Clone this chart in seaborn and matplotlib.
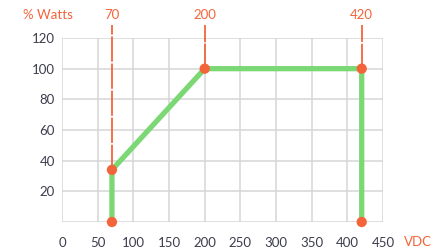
import pandas as pd
import matplotlib.pyplot as plt
import seaborn as sns

# 곡선 데이터 (VDC, % Watts)
vdc = [70, 70, 200, 420, 420]
watts = [0, 34, 100, 100, 0]
# 위쪽 표시선
mark_x = [70, 200, 420]
mark_y = [34, 100, 100]
mark_labels = ['70', '200', '420']
x_ticks = [0, 50, 100, 150, 200, 250, 300, 350, 400, 450]
y_ticks = [0, 20, 40, 60, 80, 100, 120]
y_ticklabels = ['', '20', '40', '60', '80', '100', '120']

orange = '#f4643a'
green = '#7cd874'
grid = '#d6d6d6'
text_col = '#3d3d4d'

sns.set_style('white')
plt.rcParams['font.family'] = ['Lato', 'DejaVu Sans']

df = pd.DataFrame({'VDC': vdc, 'Watts': watts})

fig = plt.figure(figsize=(4.46, 2.5), dpi=100)
ax = fig.add_axes([0.139, 0.112, 0.72, 0.736])

# 표시선 그리기
ax.vlines(mark_x, mark_y, 128.5, colors=orange, linewidth=1.3,
          linestyles=(0, (14, 1)), clip_on=False, zorder=2)
for x, lab in zip(mark_x, mark_labels):
    ax.text(x, 131, lab, color=orange, fontsize=9.5, ha='center', va='bottom', clip_on=False)

# 곡선 그리기
sns.lineplot(x='VDC', y='Watts', data=df, sort=False, estimator=None,
             color=green, linewidth=3.8, ax=ax, zorder=3)
sns.scatterplot(x='VDC', y='Watts', data=df, color=orange, s=55,
                edgecolor='none', ax=ax, zorder=4, clip_on=False)

ax.set_xlim(0, 450)
ax.set_ylim(0, 120)
ax.set_xticks(x_ticks)
ax.set_yticks(y_ticks)
ax.set_yticklabels(y_ticklabels)
ax.grid(True, color=grid, linewidth=1.1)
ax.set_axisbelow(True)
for s in ax.spines.values():
    s.set_visible(False)
ax.tick_params(axis='both', length=0, labelsize=9.5, labelcolor=text_col)
ax.tick_params(axis='x', pad=11)
ax.tick_params(axis='y', pad=5)
ax.set_xlabel('')
ax.set_ylabel('')

fig.text(48 / 446, 1 - 15 / 250, '% Watts', color=orange, fontsize=9.5, ha='center', va='center')
fig.text(418 / 446, 1 - 242 / 250, 'VDC', color=orange, fontsize=9.5, ha='center', va='center')

fig.savefig('out.png', dpi=100)
